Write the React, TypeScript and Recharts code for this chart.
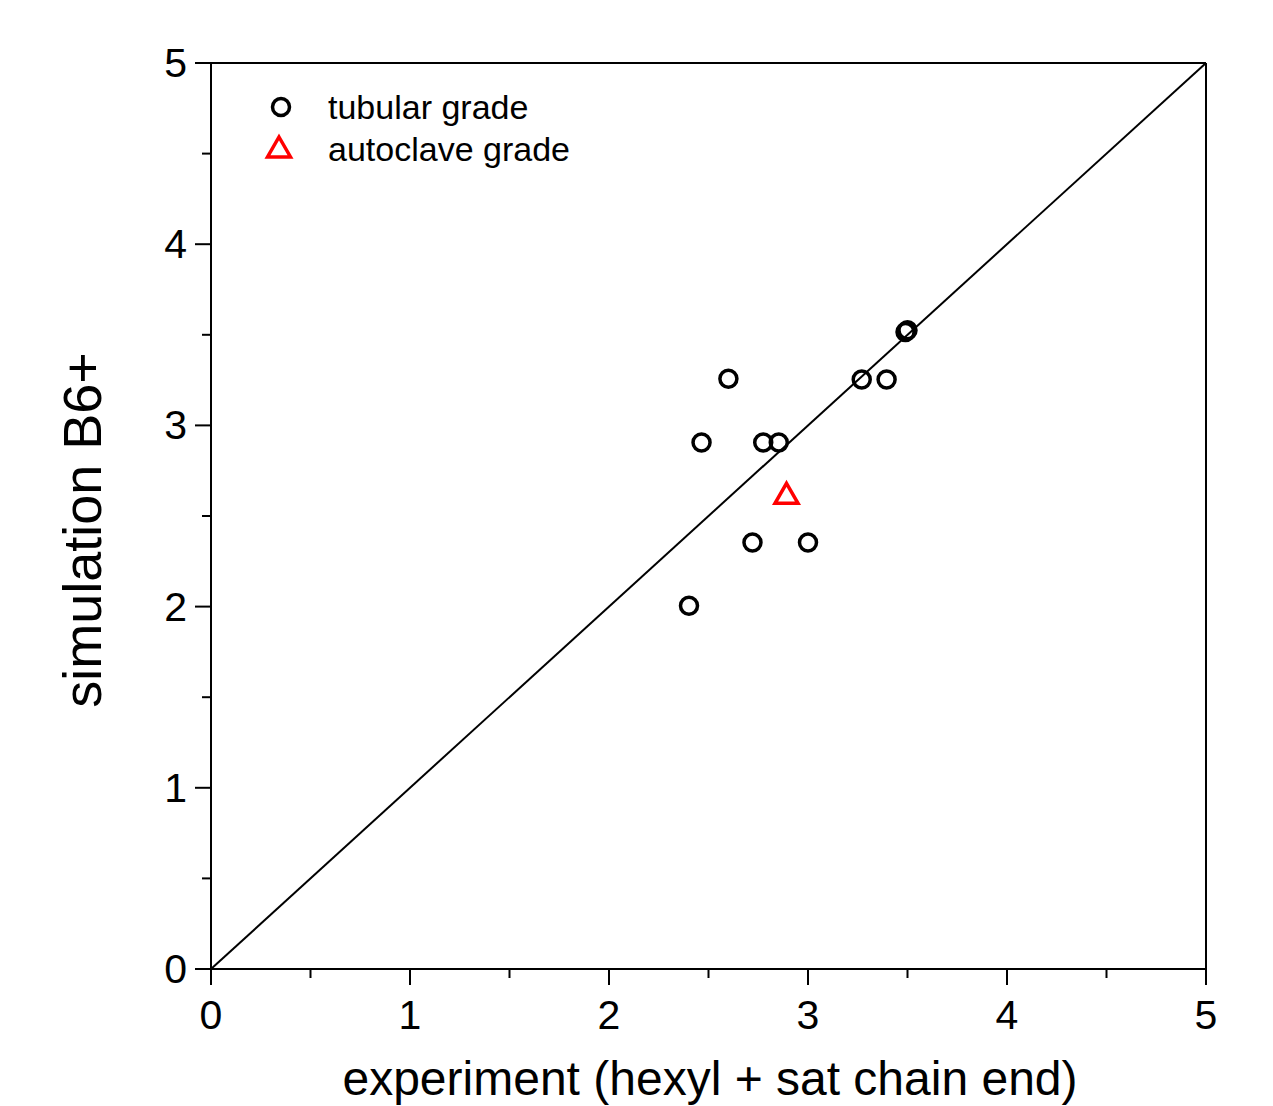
import React from "react";
import {
  ScatterChart,
  Scatter,
  XAxis,
  YAxis,
  ReferenceLine,
} from "recharts";

// tubular grade samples (experiment, simulation)
const tubularX = [3.49, 3.5, 3.27, 3.395, 2.6, 2.465, 2.775, 2.853, 2.721, 3.0, 2.402];
const tubularY = [3.515, 3.525, 3.253, 3.253, 3.257, 2.906, 2.906, 2.906, 2.354, 2.354, 2.005];

// autoclave grade samples
const autoclaveX = [2.892];
const autoclaveY = [2.62];

const majorTicks = [0, 1, 2, 3, 4, 5];
const minorTicks = [0.5, 1.5, 2.5, 3.5, 4.5];
const allTicks = [...majorTicks, ...minorTicks].sort((a, b) => a - b);

const tubularData = tubularX.map((x, i) => ({ x, y: tubularY[i] }));
const autoclaveData = autoclaveX.map((x, i) => ({ x, y: autoclaveY[i] }));

const FONT = '"Liberation Sans", Arial, sans-serif';

function OpenCircle({ cx, cy }: any) {
  return <circle cx={cx} cy={cy} r={8.5} fill="none" stroke="#000" strokeWidth={3.5} />;
}

function OpenTriangle({ cx, cy }: any) {
  const pts = `${cx},${cy - 11} ${cx + 11.5},${cy + 9} ${cx - 11.5},${cy + 9}`;
  return <polygon points={pts} fill="none" stroke="#ff0000" strokeWidth={3.5} />;
}

function XTick({ x, y, payload }: any) {
  const v = payload.value;
  const major = Number.isInteger(v);
  return (
    <g>
      <line x1={x} x2={x} y1={y} y2={y + (major ? 16 : 9)} stroke="#000" strokeWidth={2} />
      {major && (
        <text x={x} y={y + 60} textAnchor="middle" fontSize={41} fontFamily={FONT} fill="#000">
          {v}
        </text>
      )}
    </g>
  );
}

function YTick({ x, y, payload }: any) {
  const v = payload.value;
  const major = Number.isInteger(v);
  return (
    <g>
      <line x1={x - (major ? 16 : 9)} x2={x} y1={y} y2={y} stroke="#000" strokeWidth={2} />
      {major && (
        <text x={x - 24} y={y + 14} textAnchor="end" fontSize={41} fontFamily={FONT} fill="#000">
          {v}
        </text>
      )}
    </g>
  );
}

export default function App() {
  return (
    <div style={{ position: "absolute", left: 0, top: 0, background: "#fff" }}>
      <ScatterChart
        width={1273}
        height={1106}
        margin={{ top: 63, right: 67, bottom: 0, left: 111 }}
      >
        <XAxis
          type="number"
          dataKey="x"
          domain={[0, 5]}
          ticks={allTicks}
          interval={0}
          allowDataOverflow
          height={137}
          tickSize={0}
          tickMargin={0}
          tickLine={false}
          axisLine={{ stroke: "#000", strokeWidth: 2 }}
          tick={<XTick />}
        />
        <YAxis
          type="number"
          dataKey="y"
          domain={[0, 5]}
          ticks={allTicks}
          interval={0}
          allowDataOverflow
          width={100}
          tickSize={0}
          tickMargin={0}
          tickLine={false}
          axisLine={{ stroke: "#000", strokeWidth: 2 }}
          tick={<YTick />}
        />
        <text x={710} y={1095} textAnchor="middle" fontSize={48} fontFamily={FONT} fill="#000">
          experiment (hexyl + sat chain end)
        </text>
        <text
          x={101}
          y={530}
          transform="rotate(-90 101 530)"
          textAnchor="middle"
          fontSize={54}
          fontFamily={FONT}
          fill="#000"
        >
          simulation B6+
        </text>
        <ReferenceLine y={5} stroke="#000" strokeWidth={2} />
        <ReferenceLine x={5} stroke="#000" strokeWidth={2} />
        <ReferenceLine
          segment={[
            { x: 0, y: 0 },
            { x: 5, y: 5 },
          ]}
          stroke="#000"
          strokeWidth={2}
        />
        {/* legend */}
        <g fontFamily={FONT} fontSize={34} fill="#000">
          <circle cx={281} cy={107} r={8.5} fill="none" stroke="#000" strokeWidth={3.5} />
          <text x={328} y={119}>tubular grade</text>
          <polygon points="279,137 290.5,157 267.5,157" fill="none" stroke="#ff0000" strokeWidth={3.5} />
          <text x={328} y={161}>autoclave grade</text>
        </g>
        <Scatter
          name="tubular grade"
          data={tubularData}
          shape={<OpenCircle />}
          isAnimationActive={false}
        />
        <Scatter
          name="autoclave grade"
          data={autoclaveData}
          shape={<OpenTriangle />}
          isAnimationActive={false}
        />
      </ScatterChart>
    </div>
  );
}
